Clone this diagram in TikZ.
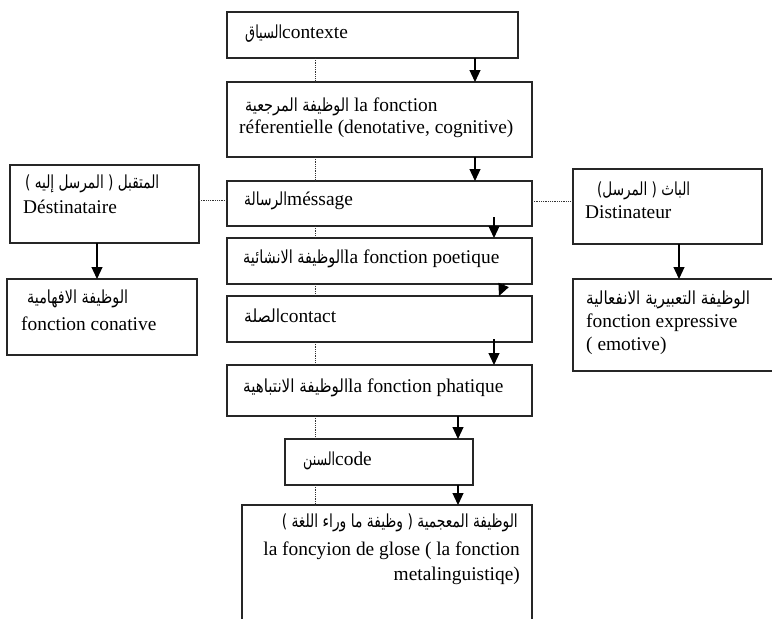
\documentclass[tikz,border=0pt]{standalone}
\usepackage{fontspec}
\usepackage{graphicx}
\setmainfont{Liberation Serif}
\newfontfamily\arfont[Script=Arabic]{DejaVu Sans}
\TeXXeTstate=1
\usetikzlibrary{arrows.meta,calc}
\newcommand{\ARw}[2]{\resizebox{#1pt}{\height}{\arfont\fontsize{18}{21}\selectfont #2}}
\tikzset{
  box/.style={draw=black!85, line width=1.1pt, anchor=north west, inner sep=0pt, outer sep=0pt},
  txt/.style={anchor=base west, inner sep=0pt, font=\fontsize{19.4}{22}\selectfont},
  txtr/.style={anchor=base east, inner sep=0pt, font=\fontsize{19.4}{22}\selectfont},
  arr/.style={-{Triangle[length=12pt,width=11pt]}, line width=1.2pt, draw=black},
  dotline/.style={line width=0.6pt, dash pattern=on 0.8pt off 1pt, draw=black!80}
}
\begin{document}
\begin{tikzpicture}[x=1pt,y=-1pt]
\useasboundingbox (0,0) rectangle (772,619);
% boxes
\node[box, minimum width=291pt, minimum height=46pt] (ctx) at (227,12) {};
\node[box, minimum width=305pt, minimum height=75pt] (ref) at (227,82) {};
\node[box, minimum width=305pt, minimum height=45pt] (msg) at (227,181) {};
\node[box, minimum width=305pt, minimum height=46pt] (poe) at (227,238) {};
\node[box, minimum width=305pt, minimum height=46pt] (con) at (227,296) {};
\node[box, minimum width=305pt, minimum height=51pt] (pha) at (227,365) {};
\node[box, minimum width=188pt, minimum height=46pt] (code) at (285,439) {};
\node[box, minimum width=290pt, minimum height=130pt] (meta) at (242,505) {};
\node[box, minimum width=189pt, minimum height=78pt] (dest) at (10,165) {};
\node[box, minimum width=190pt, minimum height=76pt] (cona) at (7,279) {};
\node[box, minimum width=189pt, minimum height=75pt] (dist) at (573,169) {};
\node[box, minimum width=210pt, minimum height=92pt] (expr) at (573,279) {};
% helper coordinates
\coordinate (a475) at (475,0);
\coordinate (a494) at (494,0);
\coordinate (a504) at (504,0);
\coordinate (a499) at (499,0);
\coordinate (a458) at (458,0);
\coordinate (a97) at (97,0);
\coordinate (a679) at (679,0);
\coordinate (d315) at (315,0);
\coordinate (h200) at (0,200);
\coordinate (h201) at (0,201);
% arrows
\draw[arr] (ctx.south -| a475) -- (ref.north -| a475);
\draw[arr] (ref.south -| a475) -- (msg.north -| a475);
\draw[arr] ($(msg.south -| a494)+(0,-9)$) -- (poe.north -| a494);
\draw[arr] (poe.south -| a504) -- (con.north -| a499);
\draw[arr] ($(con.south -| a494)+(0,-3)$) -- (pha.north -| a494);
\draw[arr] (pha.south -| a458) -- (code.north -| a458);
\draw[arr] (code.south -| a458) -- (meta.north -| a458);
\draw[arr] (dest.south -| a97) -- (cona.north -| a97);
\draw[arr] (dist.south -| a679) -- (expr.north -| a679);
% dotted links
\draw[dotline] (ctx.south -| d315) -- (ref.north -| d315);
\draw[dotline] (ref.south -| d315) -- (msg.north -| d315);
\draw[dotline] (msg.south -| d315) -- (poe.north -| d315);
\draw[dotline] (poe.south -| d315) -- (con.north -| d315);
\draw[dotline] (con.south -| d315) -- (pha.north -| d315);
\draw[dotline] (pha.south -| d315) -- (code.north -| d315);
\draw[dotline] (code.south -| d315) -- (meta.north -| d315);
\draw[dotline] (dest.east |- h200) -- (msg.west |- h200);
\draw[dotline] (msg.east |- h201) -- (dist.west |- h201);
% texts centre column
\node[txt] (t-ctx) at (245,38) {\ARw{37}{\beginR السياق\endR}contexte};
\node[txt] (t-ref1) at (245,111) {\ARw{104}{\beginR الوظيفة المرجعية\endR} la fonction};
\node[txt] (t-ref2) at (239,133) {réferentielle (denotative, cognitive)};
\node[txt] (t-msg) at (244,205) {\ARw{43}{\beginR الرسالة\endR}méssage};
\node[txt] (t-poe) at (243,263) {\ARw{101}{\beginR الوظيفة الانشائية\endR}la fonction poetique};
\node[txt] (t-con) at (244,322) {\ARw{36}{\beginR الصلة\endR}contact};
\node[txt] (t-pha) at (243,392) {\ARw{105}{\beginR الوظيفة الانتباهية\endR}la fonction phatique};
\node[txt] (t-code) at (303,465) {\ARw{32}{\beginR السنن\endR}code};
\node[txtr] (t-meta1) at (518,527) {\ARw{236}{\beginR الوظيفة المعجمية ( وظيفة ما وراء اللغة )\endR}};
\node[txtr] (t-meta2) at (520,555) {la foncyion de glose ( la fonction};
\node[txtr] (t-meta3) at (520,580) {metalinguistiqe)};
% side texts
\node[txt] (t-dest1) at (25,188) {\ARw{134}{\beginR المتقبل ( المرسل إليه )\endR}};
\node[txt] (t-dest2) at (23,213) {Déstinataire};
\node[txt] (t-cona1) at (27,303) {\ARw{101}{\beginR الوظيفة الافهامية\endR}};
\node[txt] (t-cona2) at (21,330) {fonction conative};
\node[txt] (t-dist1) at (597,195) {\ARw{93}{\beginR الباث ( المرسل)\endR}};
\node[txt] (t-dist2) at (585,218) {Distinateur};
\node[txt] (t-expr1) at (586,304) {\ARw{164}{\beginR الوظيفة التعبيرية الانفعالية\endR}};
\node[txt] (t-expr2) at (586,327) {fonction expressive};
\node[txt] (t-expr3) at (586,350) {( emotive)};
\end{tikzpicture}
\end{document}
